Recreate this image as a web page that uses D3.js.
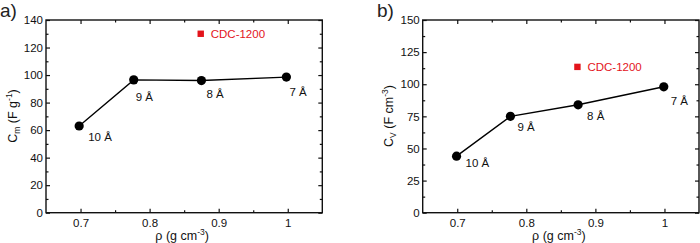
<!DOCTYPE html>
<html>
<head>
<meta charset="utf-8">
<script src="https://cdn.jsdelivr.net/npm/d3@7"></script>
<style>
  html, body { margin: 0; padding: 0; background: #fff; }
  svg { display: block; font-family: "Liberation Sans", Arial, sans-serif; }
</style>
</head>
<body>
<div id="chart"></div>
<script>
// data
const poreSizes = ["10 Å", "9 Å", "8 Å", "7 Å"];
const densityA = [0.698, 0.777, 0.875, 0.998];
const cmValues = [63, 96.5, 96, 98.5];
const densityB = [0.699, 0.777, 0.875, 0.999];
const cvValues = [44, 75, 84, 98];
const cdcName = "CDC-1200";
const cdcDensity = 0.874;
const cdcCm = 130;
const cdcCv = 113.5;

const xMajor = [0.7, 0.8, 0.9, 1];
const xMinor = [0.75, 0.85, 0.95];
const yMajorA = [0, 20, 40, 60, 80, 100, 120, 140];
const yMinorA = [10, 30, 50, 70, 90, 110, 130];
const yMajorB = [0, 25, 50, 75, 100, 125, 150];
const yMinorB = [12.5, 37.5, 62.5, 87.5, 112.5, 137.5];

const width = 700, height = 243;
const red = "#e3141b";

const svg = d3.select("#chart").append("svg")
    .attr("width", width)
    .attr("height", height)
    .attr("viewBox", `0 0 ${width} ${height}`);

function drawPanel(p) {
    const x = d3.scaleLinear().domain([0.65, 1.05]).range([p.left, p.right]);
    const y = d3.scaleLinear().domain(p.yDomain).range([212.7, 20]);
    const g = svg.append("g");

    // ticks, all pointing inwards
    const fmtX = d => d === 1 ? "1" : d3.format(".1f")(d);
    const axes = [
        [d3.axisBottom(x).tickValues(xMajor).tickSize(-4).tickFormat(fmtX), `translate(0,${y.range()[0]})`, true],
        [d3.axisBottom(x).tickValues(xMinor).tickSize(-2.5).tickFormat(""), `translate(0,${y.range()[0]})`, false],
        [d3.axisTop(x).tickValues(xMajor).tickSize(-4).tickFormat(""), `translate(0,${y.range()[1]})`, false],
        [d3.axisTop(x).tickValues(xMinor).tickSize(-2.5).tickFormat(""), `translate(0,${y.range()[1]})`, false],
        [d3.axisLeft(y).tickValues(p.yMajor).tickSize(-4).tickFormat(d3.format("d")), `translate(${p.left},0)`, true],
        [d3.axisLeft(y).tickValues(p.yMinor).tickSize(-2.5).tickFormat(""), `translate(${p.left},0)`, false],
        [d3.axisRight(y).tickValues(p.yMajor).tickSize(-4).tickFormat(""), `translate(${p.right},0)`, false],
        [d3.axisRight(y).tickValues(p.yMinor).tickSize(-2.5).tickFormat(""), `translate(${p.right},0)`, false]
    ];
    axes.forEach(([ax, tr, labels]) => {
        const a = g.append("g").attr("transform", tr).call(ax);
        a.select(".domain").remove();
        a.selectAll("line").attr("stroke", "#111").attr("stroke-width", 1.2);
        a.selectAll("text")
            .attr("font-size", 11.5)
            .attr("font-family", "Liberation Sans, Arial, sans-serif")
            .attr("fill", "#111");
        if (labels) a.selectAll("text").each(function () {
            const t = d3.select(this);
            if (t.attr("x") !== null && +t.attr("x") < 0) t.attr("x", -3);
            else t.attr("y", 6);
        });
    });

    // frame
    g.append("rect")
        .attr("x", p.left).attr("y", y.range()[1])
        .attr("width", p.right - p.left)
        .attr("height", y.range()[0] - y.range()[1])
        .attr("fill", "none")
        .attr("stroke", "#111")
        .attr("stroke-width", 1.4);

    // series
    const pts = p.xs.map((d, i) => ({ x: d, y: p.ys[i], label: poreSizes[i], off: p.offsets[i] }));
    g.append("path")
        .datum(pts)
        .attr("fill", "none")
        .attr("stroke", "#000")
        .attr("stroke-width", 1.4)
        .attr("d", d3.line().x(d => x(d.x)).y(d => y(d.y)));
    g.selectAll(".pt").data(pts).enter().append("circle")
        .attr("cx", d => x(d.x)).attr("cy", d => y(d.y))
        .attr("r", 4.6).attr("fill", "#000");
    g.selectAll(".lbl").data(pts).enter().append("text")
        .attr("x", d => x(d.x) + d.off[0])
        .attr("y", d => y(d.y) + d.off[1])
        .attr("dy", "0.35em")
        .attr("font-size", 11.5)
        .attr("fill", "#111")
        .text(d => d.label);

    // CDC-1200 reference point
    g.append("rect")
        .attr("x", x(cdcDensity) - 3.2).attr("y", y(p.cdc) - 3.2)
        .attr("width", 6.4).attr("height", 6.4)
        .attr("fill", red);
    g.append("text")
        .attr("x", x(cdcDensity) + 10).attr("y", y(p.cdc))
        .attr("dy", "0.35em")
        .attr("font-size", 11.5)
        .attr("fill", red)
        .text(cdcName);

    // axis titles
    const xt = g.append("text")
        .attr("x", (p.left + p.right) / 2 - 2).attr("y", 240)
        .attr("text-anchor", "middle")
        .attr("font-size", 12.5)
        .attr("fill", "#111");
    xt.append("tspan").text("ρ (g cm");
    xt.append("tspan").attr("dy", -5).attr("font-size", 8.5).text("-3");
    xt.append("tspan").attr("dy", 5).text(")");

    const yt = g.append("text")
        .attr("transform", `translate(${p.yTitleX},116) rotate(-90)`)
        .attr("text-anchor", "middle")
        .attr("font-size", 12.5)
        .attr("fill", "#111");
    yt.append("tspan").text("C");
    yt.append("tspan").attr("dy", 3).attr("font-size", 8.5).text(p.sub);
    yt.append("tspan").attr("dy", -3).text(p.unit);
    yt.append("tspan").attr("dy", -5).attr("font-size", 8.5).text("-" + p.exp);
    yt.append("tspan").attr("dy", 5).text(")");

    // panel tag
    svg.append("text")
        .attr("x", p.tagX).attr("y", 17)
        .attr("font-size", 19)
        .attr("fill", "#222")
        .text(p.tag);
}

drawPanel({
    left: 46, right: 322.3,
    yDomain: [0, 140], yMajor: yMajorA, yMinor: yMinorA,
    xs: densityA, ys: cmValues, cdc: cdcCm,
    offsets: [[9, 11], [2, 17], [5, 13], [3, 15]],
    yTitleX: 17, sub: "m", unit: " (F g", exp: "1",
    tag: "a)", tagX: 0
});
drawPanel({
    left: 422.7, right: 699,
    yDomain: [0, 150], yMajor: yMajorB, yMinor: yMinorB,
    xs: densityB, ys: cvValues, cdc: cdcCv,
    offsets: [[9, 7], [7, 11], [9, 11], [7, 14]],
    yTitleX: 393, sub: "V", unit: " (F cm", exp: "3",
    tag: "b)", tagX: 377
});
</script>
</body>
</html>
